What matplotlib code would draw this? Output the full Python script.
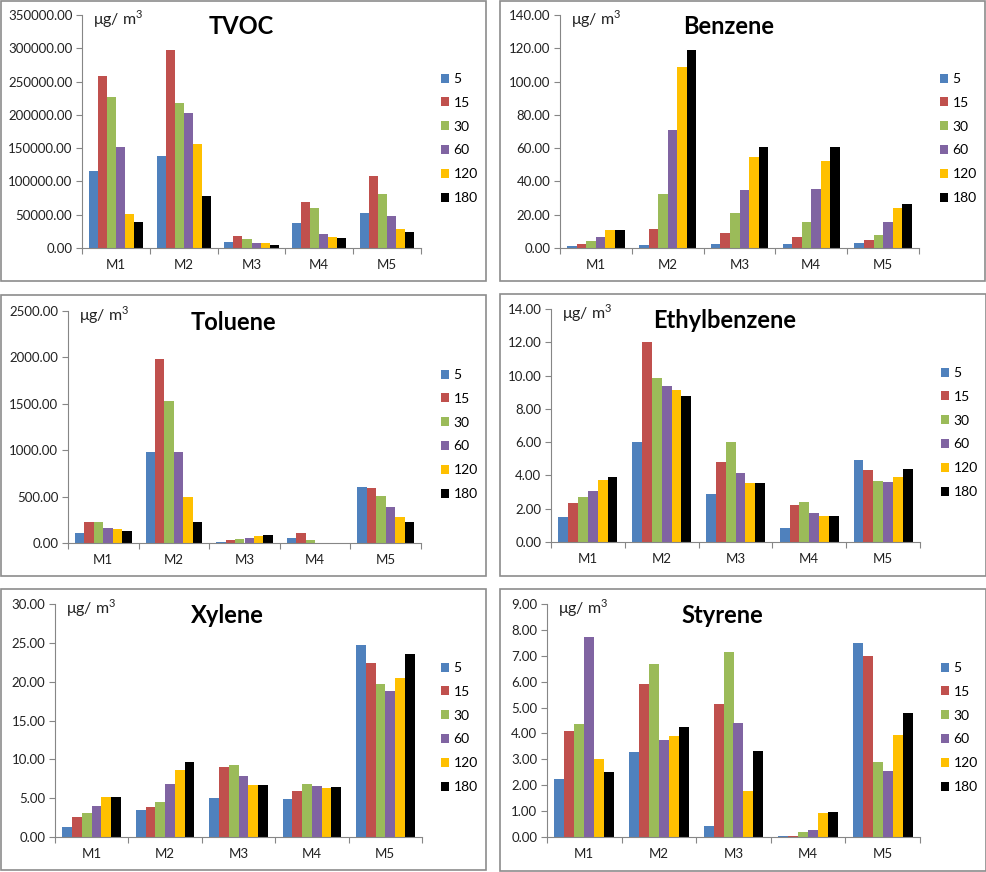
import numpy as np
import matplotlib
matplotlib.use("Agg")
import matplotlib.pyplot as plt
from matplotlib.patches import Rectangle

plt.rcParams['font.family'] = ['Lato', 'DejaVu Sans']

W, H = 987, 872

#=============================
# data
#=============================
sites = ["M1", "M2", "M3", "M4", "M5"]
times = ["5", "15", "30", "60", "120", "180"]
colors = ["#4F81BD", "#C0504D", "#9BBB59", "#8064A2", "#FFC000", "#000000"]

# rows = sampling time, columns = M1..M5
tvoc = [
    [115000, 138000, 9000, 37000, 52000],
    [259000, 298000, 17500, 69500, 108000],
    [227000, 218000, 13500, 60500, 81000],
    [151000, 202500, 8000, 21500, 48000],
    [51000, 155500, 7000, 16500, 29000],
    [39000, 78000, 5000, 15000, 24500],
]
benzene = [
    [1.2, 2.0, 2.4, 2.4, 2.8],
    [2.2, 11.2, 8.8, 6.6, 5.0],
    [4.4, 32.4, 20.8, 15.8, 8.0],
    [6.6, 71.2, 34.6, 35.4, 15.4],
    [10.6, 109.0, 54.4, 52.4, 23.8],
    [10.6, 119.0, 60.4, 60.4, 26.6],
]
toluene = [
    [111, 977, 7, 57, 600],
    [230, 1979, 29, 111, 592],
    [230, 1526, 40, 29, 503],
    [162, 984, 57, 0, 391],
    [147, 492, 72, 0, 276],
    [126, 223, 86, 0, 230],
]
ethylbenzene = [
    [1.52, 5.98, 2.87, 0.86, 4.95],
    [2.37, 12.00, 4.79, 2.20, 4.35],
    [2.73, 9.85, 5.98, 2.39, 3.67],
    [3.07, 9.35, 4.17, 1.72, 3.61],
    [3.71, 9.13, 3.53, 1.58, 3.91],
    [3.91, 8.80, 3.57, 1.56, 4.37],
]
xylene = [
    [1.24, 3.52, 5.02, 4.94, 24.68],
    [2.58, 3.86, 9.01, 5.97, 22.45],
    [3.05, 4.46, 9.31, 6.78, 19.70],
    [4.03, 6.87, 7.85, 6.52, 18.80],
    [5.15, 8.58, 6.70, 6.27, 20.52],
    [5.19, 9.61, 6.70, 6.39, 23.60],
]
styrene = [
    [2.23, 3.28, 0.44, 0.02, 7.48],
    [4.11, 5.91, 5.12, 0.03, 7.00],
    [4.35, 6.68, 7.15, 0.19, 2.88],
    [7.71, 3.75, 4.40, 0.26, 2.54],
    [3.01, 3.90, 1.78, 0.91, 3.95],
    [2.51, 4.25, 3.31, 0.97, 4.79],
]

# (title, data, ymax, ystep, box px, axes px, legend px)
panels = [
    ("TVOC", tvoc, 350000, 50000, (1, 1, 486, 281), (82, 15, 421, 248), (441, 73)),
    ("Benzene", benzene, 140, 20, (500, 1, 985, 281), (560, 15, 919, 248), (940, 73)),
    ("Toluene", toluene, 2500, 500, (1, 295, 486, 576), (68, 311, 421, 543), (441, 369)),
    ("Ethylbenzene", ethylbenzene, 14, 2, (500, 294, 986, 576), (551, 309, 920, 542), (941, 367)),
    ("Xylene", xylene, 30, 5, (1, 589, 486, 870), (55, 604, 422, 837), (441, 662)),
    ("Styrene", styrene, 9, 1, (500, 589, 986, 871), (547, 604, 920, 837), (941, 662)),
]


def rect(l, t, r, b):
    return [l / W, 1 - b / H, (r - l) / W, (b - t) / H]


fig = plt.figure(figsize=(W / 100, H / 100), dpi=100)

for title, data, ymax, ystep, box, axpx, legpx in panels:
    # panel frame
    bl, bt, br, bb = box
    fig.patches.append(Rectangle((bl / W, 1 - bb / H), (br - bl) / W, (bb - bt) / H,
                                 transform=fig.transFigure, fill=False,
                                 edgecolor="#8c8c8c", linewidth=1.2))

    ax = fig.add_axes(rect(*axpx))
    vals = np.array(data, dtype=float)
    x = np.arange(len(sites)) + 0.5
    bw = 0.8 / len(times)
    for i, t in enumerate(times):
        ax.bar(x - 0.4 + bw * (i + 0.5), vals[i], width=bw, color=colors[i],
               label=t, linewidth=0)

    ax.set_xlim(0, len(sites))
    ax.set_ylim(0, ymax)
    ax.set_yticks(np.arange(0, ymax + ystep / 2, ystep))
    ax.set_yticklabels([f"{v:.2f}" for v in np.arange(0, ymax + ystep / 2, ystep)])
    ax.set_xticks(np.arange(0, len(sites) + 1))
    ax.set_xticklabels([])
    ax.set_xticks(x, minor=True)
    ax.set_xticklabels(sites, minor=True)
    ax.tick_params(axis="x", which="major", length=4, direction="out", color="#868686")
    ax.tick_params(axis="x", which="minor", length=0, pad=8, labelsize=9.5, labelcolor="#222222")
    ax.tick_params(axis="y", length=4, direction="out", color="#868686",
                   labelsize=9.5, labelcolor="#222222", pad=3)
    for s in ["top", "right"]:
        ax.spines[s].set_visible(False)
    for s in ["left", "bottom"]:
        ax.spines[s].set_color("#868686")

    # unit label, small raised 3 like the original
    ax.annotate("μg/ m$^{\\mathregular{3}}$", xy=(0, 1), xycoords="axes fraction",
                xytext=(8, -3), textcoords="offset points", fontsize=11.5,
                ha="left", va="center", color="#222222")
    ax.text(0.47, 0.95, title, transform=ax.transAxes, ha="center", va="center",
            fontsize=17, fontweight="bold")

    lx, ly = legpx
    ax.legend(loc="upper left", bbox_to_anchor=(lx / W, 1 - ly / H),
              bbox_transform=fig.transFigure, frameon=False, fontsize=10,
              handlelength=0.6, handleheight=0.6, handletextpad=0.3,
              labelspacing=0.85, borderpad=0, borderaxespad=0)

fig.savefig("out.png", dpi=100)
